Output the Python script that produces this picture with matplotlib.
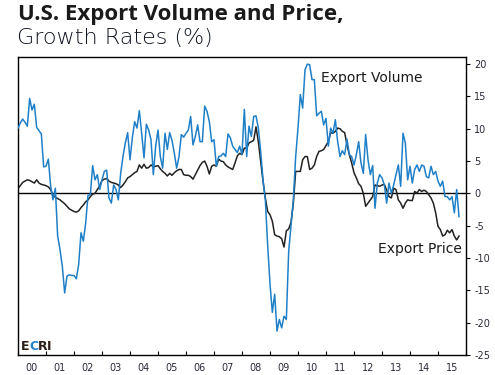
import matplotlib
matplotlib.use("Agg")
import matplotlib.pyplot as plt
import numpy as np

# Monthly data, Jan 2000 - Oct 2015 (yoy growth, %)
start_year = 2000
export_volume = [
    10.1, 10.9, 11.5, 11.0, 10.4, 14.7, 12.9, 13.8, 10.2, 9.7, 9.2, 4.1,          # 2000
    4.2, 5.3, 1.1, -1.0, 0.8, -6.6, -8.7, -11.3, -15.4, -12.8, -12.6, -12.7,     # 2001
    -12.7, -13.2, -11.0, -6.1, -7.4, -4.6, -0.3, -0.2, 4.3, 2.1, 2.9, 0.6,       # 2002
    2.1, 3.4, 3.6, -0.7, -1.5, 1.3, 0.6, -1.0, 3.1, 5.7, 7.8, 9.4,               # 2003
    5.2, 8.6, 11.1, 10.1, 12.8, 9.3, 5.5, 10.7, 9.8, 8.3, 2.9, 7.3,              # 2004
    9.8, 5.7, 3.9, 9.3, 6.8, 9.4, 8.2, 6.2, 3.9, 5.7, 9.1, 8.7,                  # 2005
    9.3, 9.8, 11.9, 7.5, 8.8, 10.6, 8.0, 8.0, 13.5, 12.7, 11.1, 8.0,             # 2006
    8.3, 4.2, 5.7, 5.8, 6.2, 5.7, 9.2, 8.6, 7.3, 6.8, 6.3, 7.3,                  # 2007
    6.0, 13.0, 5.7, 10.4, 8.8, 11.9, 12.0, 10.1, 6.5, 2.1, -1.0, -8.0,           # 2008
    -14.0, -18.4, -15.6, -21.3, -19.5, -20.8, -19.0, -19.5, -9.0, -5.0, -1.0, 5.7,  # 2009
    10.1, 15.3, 13.2, 19.1, 20.0, 19.9, 17.6, 17.6, 12.0, 12.4, 12.7, 10.6,      # 2010
    11.6, 7.3, 10.1, 9.3, 11.4, 8.0, 5.7, 6.6, 6.0, 8.4, 6.0, 5.7,               # 2011
    4.4, 6.0, 8.0, 4.7, 3.1, 9.1, 5.2, 2.9, 4.3, -2.3, 1.6, 2.9,                 # 2012
    2.4, 1.3, -1.5, 1.6, 0.0, 1.3, 2.9, 4.4, 1.1, 9.3, 7.8, 2.1,                 # 2013
    4.2, 1.6, 3.7, 4.4, 3.4, 4.4, 4.2, 2.6, 2.4, 4.2, 2.9, 3.4,                  # 2014
    1.9, 1.1, 1.9, -0.5, -0.5, -1.0, -0.5, -3.0, 0.6, -3.6,                      # 2015
]
export_price = [
    0.8, 1.2, 1.7, 1.9, 2.1, 2.0, 1.8, 1.6, 2.1, 1.6, 1.4, 1.3,                  # 2000
    1.2, 1.0, 0.6, -0.3, -0.6, -0.8, -1.0, -1.3, -1.6, -2.0, -2.4, -2.6,         # 2001
    -2.8, -2.9, -2.7, -2.2, -1.8, -1.3, -1.0, -0.5, -0.1, 0.0, 0.6, 1.1,         # 2002
    2.0, 2.2, 2.3, 1.9, 1.7, 1.6, 1.5, 1.3, 0.9, 1.3, 1.8, 2.4,                  # 2003
    2.6, 2.9, 3.2, 3.4, 4.4, 3.9, 4.5, 3.9, 4.0, 4.4, 4.1, 4.2,                  # 2004
    4.3, 3.8, 3.4, 3.1, 2.7, 3.1, 2.8, 3.2, 3.5, 3.7, 3.7, 2.9,                  # 2005
    2.8, 2.8, 2.6, 2.2, 2.9, 3.6, 4.3, 4.8, 5.0, 4.2, 3.0, 4.2,                  # 2006
    4.4, 4.2, 5.3, 5.0, 4.9, 4.4, 4.1, 3.9, 3.7, 4.7, 5.8, 6.2,                  # 2007
    6.0, 7.0, 7.0, 7.8, 8.0, 8.2, 10.3, 8.0, 5.0, 1.9, -0.7, -2.8,               # 2008
    -3.3, -4.3, -6.4, -6.6, -6.7, -7.0, -8.3, -5.8, -5.5, -4.5, -1.5, 3.4,       # 2009
    3.4, 3.4, 5.2, 5.7, 5.7, 3.7, 3.9, 4.4, 5.7, 6.5, 6.6, 6.8,                  # 2010
    7.4, 8.0, 9.4, 9.3, 9.6, 10.1, 10.0, 9.6, 9.4, 7.5, 6.0, 4.7,                # 2011
    3.2, 2.4, 1.5, 1.1, 0.0, -2.0, -1.5, -1.0, -0.5, 1.3, 1.2, 1.1,              # 2012
    1.3, 1.4, 0.5, -0.5, -0.7, 0.8, 0.6, -1.0, -1.5, -2.3, -1.5, -1.0,           # 2013
    -1.1, -1.1, 0.3, 0.05, 0.6, 0.3, 0.5, 0.3, -0.2, -0.7, -1.5, -3.0,           # 2014
    -5.1, -5.6, -6.6, -6.4, -5.7, -6.1, -5.6, -6.6, -7.2, -6.6,                  # 2015
]
year_labels = ["00", "01", "02", "03", "04", "05", "06", "07",
               "08", "09", "10", "11", "12", "13", "14", "15"]
y_ticks = [20, 15, 10, 5, 0, -5, -10, -15, -20, -25]

W, H = 495, 375
fig = plt.figure(figsize=(W / 100, H / 100), dpi=100)
ax = fig.add_axes([18 / W, 1 - 355 / H, (466 - 18) / W, (355 - 57) / H])

t_vol = start_year + np.arange(len(export_volume)) / 12
t_pri = start_year + np.arange(len(export_price)) / 12

blue = "#1f80c8"
dark = "#222222"
ax.axhline(0, color="black", lw=1.0, zorder=1)
ax.plot(t_vol, export_volume, color=blue, lw=1.1, zorder=3)
ax.plot(t_pri, export_price, color=dark, lw=1.1, zorder=2)

ax.set_xlim(start_year, start_year + 16)
ax.set_ylim(-25, 21.1)

ax.yaxis.tick_right()
ax.set_yticks(y_ticks)
ax.set_yticklabels([str(v) for v in y_ticks])
ax.tick_params(axis="y", direction="out", length=3, width=0.8, pad=3,
               labelsize=7, labelcolor="#2a2a3a", color="black")

years = np.arange(start_year, start_year + 17)
ax.set_xticks(years)
ax.set_xticklabels([])
ax.tick_params(axis="x", which="major", direction="in", length=3, width=0.8, color="black")
ax.set_xticks(np.arange(start_year, start_year + 16) + 0.5, minor=True)
ax.set_xticklabels(year_labels, minor=True)
ax.tick_params(axis="x", which="minor", length=0, labelsize=7, labelcolor="#2a2a3a", pad=6)

for s in ax.spines.values():
    s.set_linewidth(1.0)
    s.set_color("black")

ax.text(2010.82, 17.8, "Export Volume", fontsize=10, color="#1a1a1a",
        family="DejaVu Sans", va="center", ha="left")
ax.text(2015.85, -8.6, "Export Price", fontsize=10, color="#1a1a1a",
        family="DejaVu Sans", va="center", ha="right")

# ECRI logo text, letters placed one after another
fig.canvas.draw()
renderer = fig.canvas.get_renderer()
logo_letters = [("E", "#2a1f1a"), ("C", blue), ("R", "#2a1f1a"), ("I", "#2a1f1a")]
x_px, y_px = 21, H - 350
for ch, col in logo_letters:
    t = fig.text(x_px / W, y_px / H, ch, fontsize=9, fontweight="bold", color=col,
                 family="DejaVu Sans", va="baseline", ha="left")
    bb = t.get_window_extent(renderer)
    x_px += bb.width - 0.3

fig.text(18 / W, 1 - 4 / H, "U.S. Export Volume and Price,", fontsize=16,
         fontweight="bold", color="#1a1a1a", family="Open Sans", va="top", ha="left")
fig.text(17 / W, 1 - 28 / H, "Growth Rates (%)", fontsize=16,
         fontweight="light", color="#0e1420", family="DejaVu Sans", va="top", ha="left")

fig.savefig("out.png", dpi=100)
